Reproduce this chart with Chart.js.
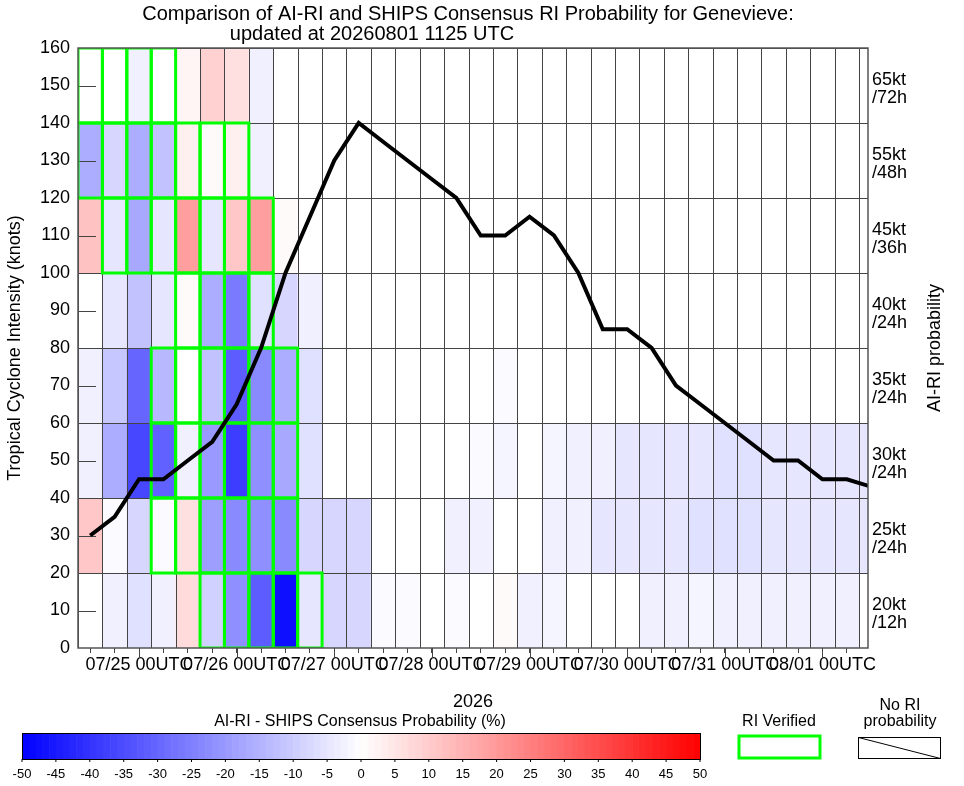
<!DOCTYPE html>
<html>
<head>
<meta charset="utf-8">
<script src="https://cdn.jsdelivr.net/npm/chart.js@4/dist/chart.umd.min.js"></script>
<style>
  body { margin: 0; background: #fff; }
  #wrap { width: 964px; height: 786px; }
</style>
</head>
<body>
<div id="wrap"><canvas id="ri-chart" width="964" height="786"></canvas></div>
<script>
// hours since 07/24 12UTC, one column every 6h
const trackHours = [0,6,12,18,24,30,36,42,48,54,60,66,72,78,84,90,96,102,108,114,120,126,132,138,144,150,156,162,168,174,180,186,192];
const trackKnots = [30,35,45,45,50,55,65,80,100,115,130,140,135,130,125,120,110,110,115,110,100,85,85,80,70,65,60,55,50,50,45,45,43];

// row labels (bottom row first) and AI-RI minus SHIPS probability per 6h column
const rowLabels = [['20kt','/12h'],['25kt','/24h'],['30kt','/24h'],['35kt','/24h'],['40kt','/24h'],['45kt','/36h'],['55kt','/48h'],['65kt','/72h']];
const diff0 = [0,-3,-6,-3,7,-9,-22,-32,-47,-5,-8,-8,-1,-1,0,-1,0,1,-3,-2,0,0,0,-3,-3,-2,-3,-3,-3,-3,-3,-3,0];
const diff1 = [11,-1,-8,-1,6,-19,-23,-22,-23,-8,-8,-8,0,0,0,-3,-3,0,0,-3,-3,-5,-5,-5,-5,-6,-6,-6,-5,-5,-5,-5,-5];
const diff2 = [-3,-16,-36,-31,-3,-20,-38,-22,-17,-6,0,0,0,0,0,0,-1,-2,0,-2,-3,-3,-5,-5,-5,-5,-6,-6,-5,-5,-5,-5,-5];
const diff3 = [-3,-11,-30,-14,0,-12,-32,-23,-16,-6,0,0,0,0,0,0,0,-1,0,0,0,0,0,0,0,0,0,0,0,0,0,0,0];
const diff4 = [0,-5,-12,-5,1,-16,-26,-6,-8,-3,0,0,0,0,0,0,0,0,0,0,0,0,0,0,0,0,0,0,0,0,0,0,0];
const diff5 = [12,-5,-17,-5,19,-5,11,19,1,0,0,0,0,0,0,0,0,0,0,0,0,0,0,0,0,0,0,0,0,0,0,0,0];
const diff6 = [-16,-8,-16,-12,3,1,3,-3,0,0,0,0,0,0,0,0,0,0,0,0,0,0,0,0,0,0,0,0,0,0,0,0,0];
const diff7 = [0,0,-3,0,2,9,6,-3,0,0,0,0,0,0,0,0,0,0,0,0,0,0,0,0,0,0,0,0,0,0,0,0,0];
const diffRows = [diff0, diff1, diff2, diff3, diff4, diff5, diff6, diff7];

// verified RI: [row, first column, last column]
const verified = [[0,5,9],[1,3,8],[2,3,8],[3,3,8],[4,4,7],[5,1,7],[6,0,6],[7,0,3]];

const dayTicks = {12:'07/25 00UTC',36:'07/26 00UTC',60:'07/27 00UTC',84:'07/28 00UTC',108:'07/29 00UTC',132:'07/30 00UTC',156:'07/31 00UTC',180:'08/01 00UTC'};
const cbTicks = [-50,-45,-40,-35,-30,-25,-20,-15,-10,-5,0,5,10,15,20,25,30,35,40,45,50];

function diffColor(v) {
  const c = Math.round(255 * (1 - Math.min(Math.abs(v), 50) / 50));
  return v < 0 ? `rgb(${c},${c},255)` : `rgb(255,${c},${c})`;
}

const FONT = '"Liberation Sans", Arial, sans-serif';

const gridPlugin = {
  id: 'riGrid',
  beforeDatasetsDraw(chart) {
    const {ctx, chartArea: a, scales: {x, y}} = chart;
    ctx.save();
    ctx.beginPath(); ctx.rect(a.left, a.top, a.right - a.left, a.bottom - a.top); ctx.clip();
    diffRows.forEach((row, r) => {
      row.forEach((v, c) => {
        const x0 = x.getPixelForValue(c * 6 - 3), x1 = x.getPixelForValue(c * 6 + 3);
        const y0 = y.getPixelForValue(r * 20 + 20), y1 = y.getPixelForValue(r * 20);
        ctx.fillStyle = diffColor(v);
        ctx.fillRect(x0, y0, x1 - x0, y1 - y0);
      });
    });
    ctx.strokeStyle = '#444'; ctx.lineWidth = 1;
    for (let c = 0; c <= 33; c++) {
      const px = Math.round(x.getPixelForValue(c * 6 - 3)) + 0.5;
      ctx.beginPath(); ctx.moveTo(px, a.top); ctx.lineTo(px, a.bottom); ctx.stroke();
    }
    for (let k = 0; k <= 160; k += 20) {
      const py = Math.round(y.getPixelForValue(k)) + 0.5;
      ctx.beginPath(); ctx.moveTo(a.left, py); ctx.lineTo(a.right, py); ctx.stroke();
    }
    for (let k = 10; k < 160; k += 20) {
      const py = Math.round(y.getPixelForValue(k)) + 0.5;
      ctx.beginPath(); ctx.moveTo(a.left, py); ctx.lineTo(a.left + 18, py); ctx.stroke();
    }
    ctx.strokeStyle = '#00ff00'; ctx.lineWidth = 3;
    verified.forEach(([r, c0, c1]) => {
      for (let c = c0; c <= c1; c++) {
        const x0 = x.getPixelForValue(c * 6 - 3), x1 = x.getPixelForValue(c * 6 + 3);
        const y0 = y.getPixelForValue(r * 20 + 20), y1 = y.getPixelForValue(r * 20);
        ctx.strokeRect(x0, y0, x1 - x0, y1 - y0);
      }
    });
    ctx.restore();
  },
  afterDraw(chart) {
    const {ctx, chartArea: a, scales: {x, y}} = chart;
    ctx.save();
    ctx.strokeStyle = '#555'; ctx.lineWidth = 1.5;
    ctx.strokeRect(a.left, a.top, a.right - a.left, a.bottom - a.top);
    // day ticks
    ctx.strokeStyle = '#444'; ctx.lineWidth = 1;
    Object.keys(dayTicks).forEach(h => {
      const px = Math.round(x.getPixelForValue(+h)) + 0.5;
      ctx.beginPath(); ctx.moveTo(px, a.bottom); ctx.lineTo(px, a.bottom + 10); ctx.stroke();
    });
    ctx.fillStyle = '#000'; ctx.textAlign = 'center'; ctx.textBaseline = 'alphabetic';
    ctx.font = '20px ' + FONT;
    ctx.fillText('Comparison of AI-RI and SHIPS Consensus RI Probability for Genevieve:', 468, 20);
    ctx.fillText('updated at 20260801 1125 UTC', 372, 40);
    ctx.font = '18px ' + FONT;
    ctx.fillText('2026', 473, 707);
    // right labels
    ctx.textAlign = 'left';
    rowLabels.forEach((lab, r) => {
      const yc = y.getPixelForValue(r * 20 + 10);
      ctx.fillText(lab[0], a.right + 4, yc - 1);
      ctx.fillText(lab[1], a.right + 4, yc + 17);
    });
    ctx.save();
    ctx.translate(940, 348); ctx.rotate(-Math.PI / 2);
    ctx.textAlign = 'center'; ctx.fillText('AI-RI probability', 0, 0);
    ctx.restore();
    // colour bar
    const cbL = 22, cbR = 700, cbT = 733, cbB = 759;
    const n = 100;
    for (let i = 0; i < n; i++) {
      const v = -50 + (i + 0.5);
      ctx.fillStyle = diffColor(v);
      ctx.fillRect(cbL + (cbR - cbL) * i / n, cbT, (cbR - cbL) / n + 0.6, cbB - cbT);
    }
    ctx.strokeStyle = '#000'; ctx.strokeRect(cbL + 0.5, cbT + 0.5, cbR - cbL, cbB - cbT);
    ctx.fillStyle = '#000'; ctx.font = '13px ' + FONT; ctx.textAlign = 'center';
    cbTicks.forEach(t => {
      const px = cbL + (cbR - cbL) * (t + 50) / 100;
      ctx.beginPath(); ctx.moveTo(px, cbB); ctx.lineTo(px, cbB + 3); ctx.stroke();
      ctx.fillText(String(t), px, 778);
    });
    ctx.font = '16px ' + FONT;
    ctx.fillText('AI-RI - SHIPS Consensus Probability (%)', 360, 726);
    ctx.fillText('RI Verified', 779, 726);
    ctx.strokeStyle = '#00ff00'; ctx.lineWidth = 3;
    ctx.strokeRect(739, 736, 81, 22);
    ctx.fillText('No RI', 900, 710);
    ctx.fillText('probability', 900, 726);
    ctx.strokeStyle = '#000'; ctx.lineWidth = 1;
    ctx.strokeRect(858.5, 737.5, 82, 21);
    ctx.beginPath(); ctx.moveTo(858.5, 737.5); ctx.lineTo(940.5, 758.5); ctx.stroke();
    ctx.restore();
  }
};

const ctx = document.getElementById('ri-chart').getContext('2d');
new Chart(ctx, {
  type: 'scatter',
  data: {
    datasets: [{
      data: trackHours.map((h, i) => ({x: h, y: trackKnots[i]})),
      showLine: true,
      borderColor: '#000',
      borderWidth: 4,
      pointRadius: 0,
      clip: 0
    }]
  },
  options: {
    responsive: false,
    animation: false,
    layout: {padding: {top: 48, right: 96, left: 0, bottom: 0}},
    plugins: {legend: {display: false}, tooltip: {enabled: false}},
    scales: {
      x: {
        type: 'linear', min: -3, max: 191.2,
        afterFit(s) { s.height = 138; },
        afterBuildTicks(s) {
          const t = [];
          for (let h = 0; h <= 186; h += 6) t.push({value: h});
          s.ticks = t;
        },
        grid: {drawOnChartArea: false, tickLength: 5, color: '#444'},
        border: {display: false},
        ticks: {
          autoSkip: false, maxRotation: 0, color: '#000', padding: 1,
          font: {size: 18, family: FONT},
          callback: v => dayTicks[v] || ''
        }
      },
      y: {
        min: 0, max: 160,
        afterFit(s) { s.width = 78; },
        afterBuildTicks(s) {
          const t = [];
          for (let k = 0; k <= 160; k += 10) t.push({value: k});
          s.ticks = t;
        },
        grid: {drawOnChartArea: false, drawTicks: false},
        border: {display: false},
        ticks: {color: '#000', padding: 8, font: {size: 18, family: FONT}},
        title: {display: true, text: 'Tropical Cyclone Intensity (knots)', color: '#000', font: {size: 18, family: FONT}, padding: {bottom: 0}}
      }
    }
  },
  plugins: [gridPlugin]
});
</script>
</body>
</html>
